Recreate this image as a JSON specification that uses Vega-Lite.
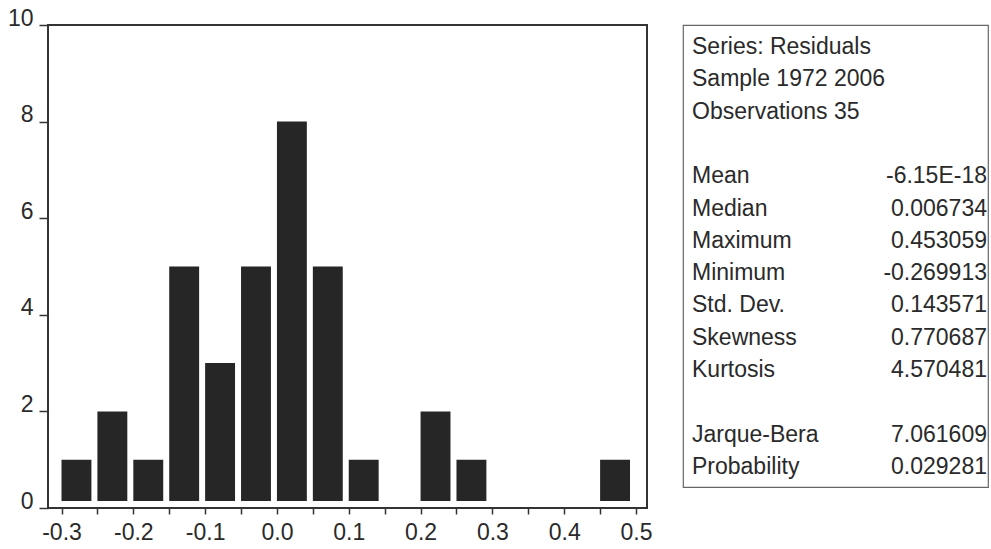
{
  "$schema": "https://vega.github.io/schema/vega-lite/v6.json",
  "background": "white",
  "padding": {"left": 6, "top": 6, "right": 0, "bottom": 0},
  "bounds": "flush",
  "spacing": 36,
  "config": {
    "font": "Liberation Sans",
    "text": {"font": "Liberation Sans"},
    "axis": {"grid": false}
  },
  "datasets": {
    "bins": [
      {"bin_start": -0.30, "bin_end": -0.25, "count": 1},
      {"bin_start": -0.25, "bin_end": -0.20, "count": 2},
      {"bin_start": -0.20, "bin_end": -0.15, "count": 1},
      {"bin_start": -0.15, "bin_end": -0.10, "count": 5},
      {"bin_start": -0.10, "bin_end": -0.05, "count": 3},
      {"bin_start": -0.05, "bin_end": 0.00, "count": 5},
      {"bin_start": 0.00, "bin_end": 0.05, "count": 8},
      {"bin_start": 0.05, "bin_end": 0.10, "count": 5},
      {"bin_start": 0.10, "bin_end": 0.15, "count": 1},
      {"bin_start": 0.15, "bin_end": 0.20, "count": 0},
      {"bin_start": 0.20, "bin_end": 0.25, "count": 2},
      {"bin_start": 0.25, "bin_end": 0.30, "count": 1},
      {"bin_start": 0.30, "bin_end": 0.35, "count": 0},
      {"bin_start": 0.35, "bin_end": 0.40, "count": 0},
      {"bin_start": 0.40, "bin_end": 0.45, "count": 0},
      {"bin_start": 0.45, "bin_end": 0.50, "count": 1}
    ],
    "stats": [
      {"row": 0, "stat": "Series: Residuals", "value": ""},
      {"row": 1, "stat": "Sample 1972 2006", "value": ""},
      {"row": 2, "stat": "Observations 35", "value": ""},
      {"row": 4, "stat": "Mean", "value": "-6.15E-18"},
      {"row": 5, "stat": "Median", "value": "0.006734"},
      {"row": 6, "stat": "Maximum", "value": "0.453059"},
      {"row": 7, "stat": "Minimum", "value": "-0.269913"},
      {"row": 8, "stat": "Std. Dev.", "value": "0.143571"},
      {"row": 9, "stat": "Skewness", "value": "0.770687"},
      {"row": 10, "stat": "Kurtosis", "value": "4.570481"},
      {"row": 12, "stat": "Jarque-Bera", "value": "7.061609"},
      {"row": 13, "stat": "Probability", "value": "0.029281"}
    ]
  },
  "hconcat": [
    {
      "width": 599,
      "height": 483,
      "view": {"stroke": "#333333", "strokeWidth": 2},
      "data": {"name": "bins"},
      "transform": [{"filter": "datum.count > 0"}],
      "mark": {"type": "bar", "fill": "#262626", "x2Offset": -6, "y2Offset": -7},
      "encoding": {
        "x": {
          "field": "bin_start",
          "type": "quantitative",
          "scale": {"domain": [-0.3188, 0.5153], "nice": false, "zero": false},
          "axis": {
            "title": null,
            "domain": false,
            "grid": false,
            "values": [-0.3, -0.25, -0.2, -0.15, -0.1, -0.05, 0, 0.05, 0.1, 0.15, 0.2, 0.25, 0.3, 0.35, 0.4, 0.45, 0.5],
            "labelExpr": "abs(round(datum.value * 20)) % 2 == 1 ? '' : replace(format(datum.value, '.1f'), '\u2212', '-')",
            "labelOverlap": false,
            "labelFlush": false,
            "labelFont": "Liberation Sans",
            "labelFontSize": 23,
            "labelColor": "#2a2a2a",
            "labelPadding": 7,
            "tickSize": 6,
            "tickColor": "#333333",
            "tickWidth": 1.5
          }
        },
        "x2": {"field": "bin_end"},
        "y": {
          "field": "count",
          "type": "quantitative",
          "scale": {"domain": [0, 10], "nice": false},
          "axis": {
            "title": null,
            "domain": false,
            "grid": false,
            "values": [0, 2, 4, 6, 8, 10],
            "labelFont": "Liberation Sans",
            "labelFontSize": 23,
            "labelColor": "#2a2a2a",
            "labelPadding": 6,
            "labelOffset": -7,
            "tickSize": 9,
            "tickColor": "#333333",
            "tickWidth": 1.5
          }
        },
        "y2": {"datum": 0}
      }
    },
    {
      "width": 305,
      "height": 462,
      "view": {"stroke": "#666666", "strokeWidth": 1.2},
      "data": {"name": "stats"},
      "layer": [
        {
          "mark": {"type": "text", "align": "left", "baseline": "middle", "fontSize": 23, "font": "Liberation Sans", "color": "#2a2a2a"},
          "encoding": {
            "x": {"datum": 0, "type": "quantitative", "scale": {"domain": [-0.0305, 1.0034], "nice": false, "zero": false}, "axis": null},
            "y": {"field": "row", "type": "quantitative", "scale": {"domain": [-0.681, 13.62], "nice": false, "zero": false, "reverse": true}, "axis": null},
            "text": {"field": "stat"}
          }
        },
        {
          "mark": {"type": "text", "align": "right", "baseline": "middle", "fontSize": 23, "font": "Liberation Sans", "color": "#2a2a2a"},
          "encoding": {
            "x": {"datum": 1, "type": "quantitative", "scale": {"domain": [-0.0305, 1.0034], "nice": false, "zero": false}, "axis": null},
            "y": {"field": "row", "type": "quantitative", "scale": {"domain": [-0.681, 13.62], "nice": false, "zero": false, "reverse": true}, "axis": null},
            "text": {"field": "value"}
          }
        }
      ]
    }
  ]
}
